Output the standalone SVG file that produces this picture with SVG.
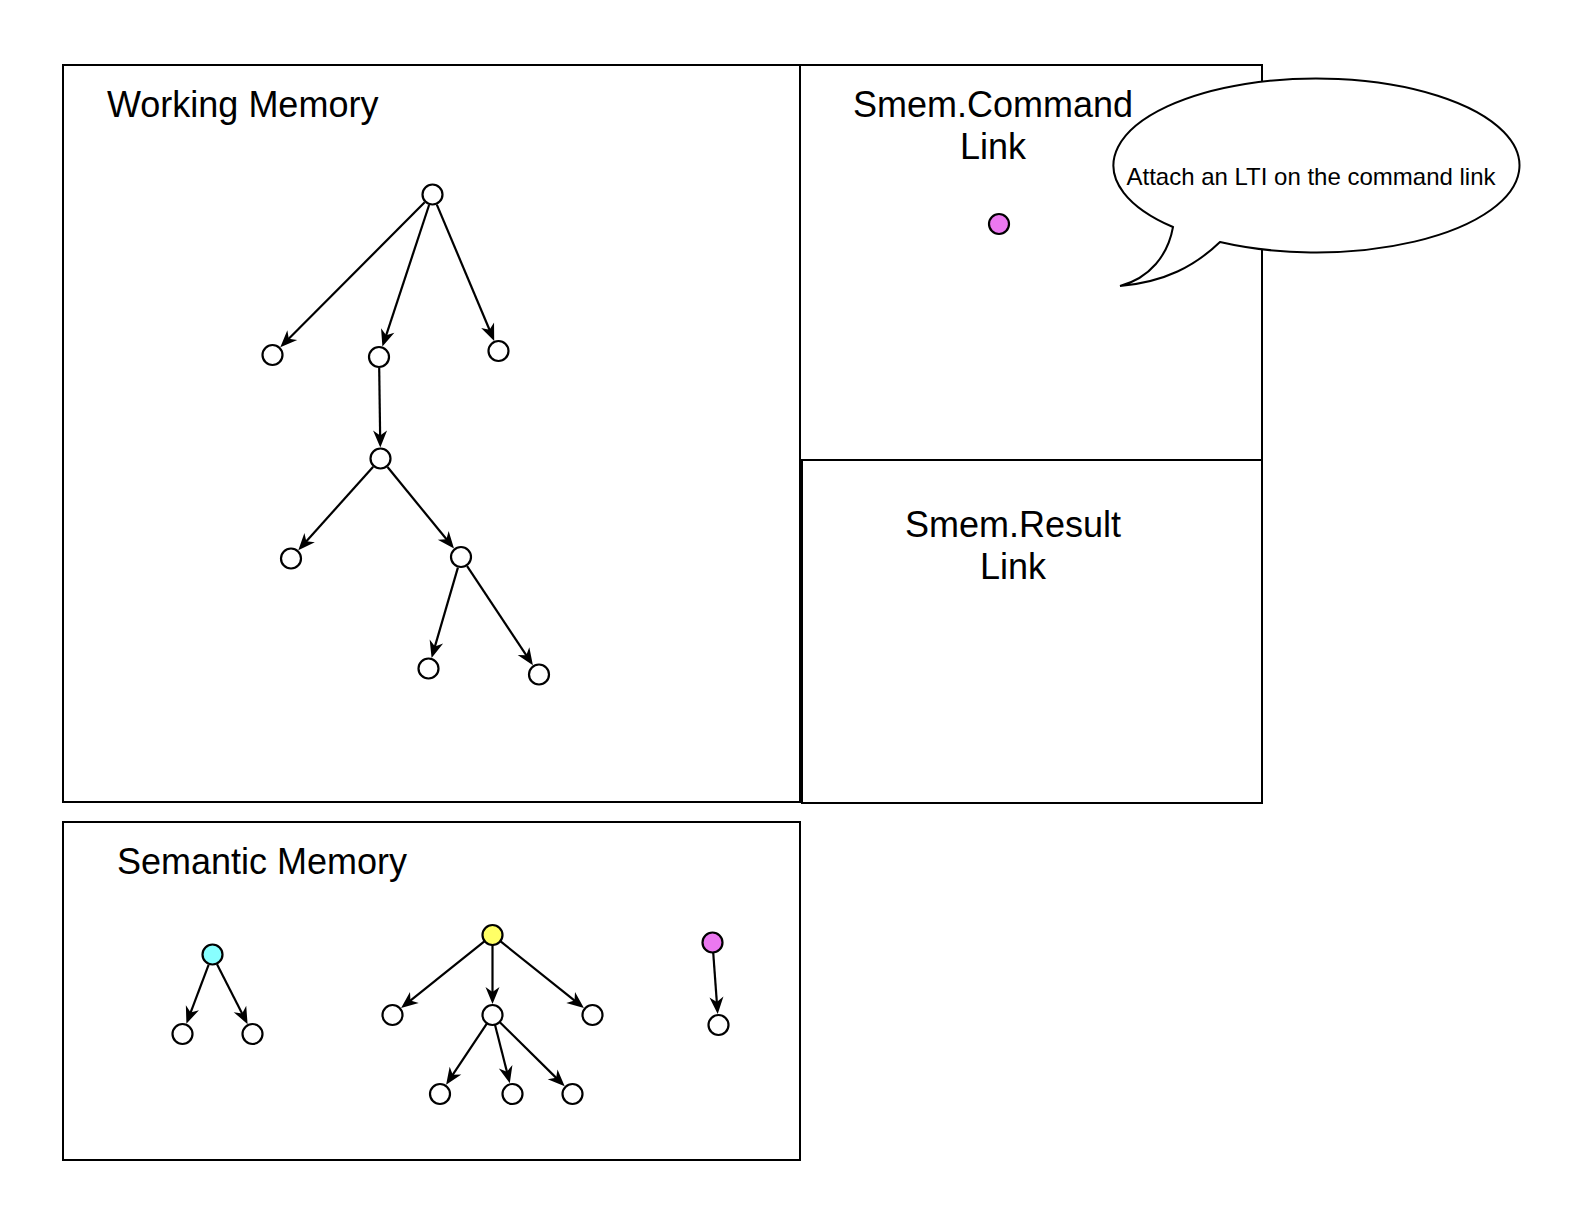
<svg xmlns="http://www.w3.org/2000/svg" width="1574" height="1206" viewBox="0 0 1574 1206">
<style>
.box{fill:none;stroke:#000;stroke-width:2}
.n{fill:#fff;stroke:#000;stroke-width:2.2}
.e{fill:none;stroke:#000;stroke-width:2.2}
.h{font-family:"Liberation Sans",Arial,Helvetica,sans-serif;font-size:36px;fill:#000}
.s{font-family:"Liberation Sans",Arial,Helvetica,sans-serif;font-size:24px;fill:#000}
.ah{fill:#000;stroke:none}
</style>
<rect width="1574" height="1206" fill="#fff"/>

<g id="working-memory">
<rect class="box" x="63" y="65" width="737" height="737"/>
<text class="h" x="107" y="117">Working Memory</text>
</g>
<g id="command-link">
<rect class="box" x="800" y="65" width="462" height="395"/>
<text class="h" x="993" y="117" text-anchor="middle">Smem.Command</text>
<text class="h" x="993" y="159" text-anchor="middle">Link</text>
<circle cx="999" cy="224" r="10" fill="#EB78F0" stroke="#000" stroke-width="2.2"/>
</g>
<g id="result-link">
<rect class="box" x="802" y="460" width="460" height="343" stroke-width="2.5"/>
<text class="h" x="1013" y="537" text-anchor="middle">Smem.Result</text>
<text class="h" x="1013" y="579" text-anchor="middle">Link</text>
</g>
<g id="semantic-memory">
<rect class="box" x="63" y="822" width="737" height="338"/>
<text class="h" x="117" y="874">Semantic Memory</text>
</g>

<g id="connectors">
<line class="e" x1="424.7" y1="202.3" x2="285" y2="342.5"/>
<line class="e" x1="429.1" y1="205" x2="384.5" y2="340.3"/>
<line class="e" x1="436.8" y1="204.6" x2="491.6" y2="334.7"/>
<line class="e" x1="379.2" y1="368" x2="380.2" y2="440.8"/>
<line class="e" x1="373.2" y1="466.7" x2="302.8" y2="545.3"/>
<line class="e" x1="387.5" y1="467" x2="449.8" y2="543.3"/>
<line class="e" x1="457.9" y1="567.6" x2="433.5" y2="651.4"/>
<line class="e" x1="467.1" y1="566.2" x2="529.2" y2="659.7"/>
<line class="e" x1="208.6" y1="964.8" x2="188.8" y2="1017.4"/>
<line class="e" x1="217" y1="964.3" x2="244.5" y2="1018.2"/>
<line class="e" x1="484.7" y1="941.2" x2="406.3" y2="1003.9"/>
<line class="e" x1="492.5" y1="945" x2="492.5" y2="997.3"/>
<line class="e" x1="500.3" y1="941.2" x2="578.7" y2="1003.9"/>
<line class="e" x1="487" y1="1023.3" x2="449.8" y2="1079.2"/>
<line class="e" x1="495" y1="1024.7" x2="508.2" y2="1076.8"/>
<line class="e" x1="499.6" y1="1022" x2="560" y2="1081.6"/>
<line class="e" x1="713.2" y1="952.5" x2="717.2" y2="1007.3"/>
<g class="ah">
<path d="M0,0 L-17,-7 L-12,0 L-17,7 Z" transform="translate(280.3,347.2) rotate(134.9)"/>
<path d="M0,0 L-17,-7 L-12,0 L-17,7 Z" transform="translate(382.4,346.6) rotate(108.2)"/>
<path d="M0,0 L-17,-7 L-12,0 L-17,7 Z" transform="translate(494.2,340.9) rotate(67.1)"/>
<path d="M0,0 L-17,-7 L-12,0 L-17,7 Z" transform="translate(380.3,447.5) rotate(89.2)"/>
<path d="M0,0 L-17,-7 L-12,0 L-17,7 Z" transform="translate(298.3,550.3) rotate(131.8)"/>
<path d="M0,0 L-17,-7 L-12,0 L-17,7 Z" transform="translate(454,548.5) rotate(50.7)"/>
<path d="M0,0 L-17,-7 L-12,0 L-17,7 Z" transform="translate(431.6,657.9) rotate(106.3)"/>
<path d="M0,0 L-17,-7 L-12,0 L-17,7 Z" transform="translate(532.9,665.3) rotate(56.4)"/>
<path d="M0,0 L-17,-7 L-12,0 L-17,7 Z" transform="translate(186.4,1023.7) rotate(110.7)"/>
<path d="M0,0 L-17,-7 L-12,0 L-17,7 Z" transform="translate(247.6,1024.2) rotate(63.3)"/>
<path d="M0,0 L-17,-7 L-12,0 L-17,7 Z" transform="translate(401.1,1008.1) rotate(141.3)"/>
<path d="M0,0 L-17,-7 L-12,0 L-17,7 Z" transform="translate(492.5,1004) rotate(90)"/>
<path d="M0,0 L-17,-7 L-12,0 L-17,7 Z" transform="translate(583.9,1008.1) rotate(38.7)"/>
<path d="M0,0 L-17,-7 L-12,0 L-17,7 Z" transform="translate(446.1,1084.8) rotate(123.6)"/>
<path d="M0,0 L-17,-7 L-12,0 L-17,7 Z" transform="translate(509.8,1083.3) rotate(75.8)"/>
<path d="M0,0 L-17,-7 L-12,0 L-17,7 Z" transform="translate(564.7,1086.3) rotate(44.6)"/>
<path d="M0,0 L-17,-7 L-12,0 L-17,7 Z" transform="translate(717.7,1014) rotate(85.8)"/>
</g>
</g>

<g id="wm-nodes">
<circle class="n" cx="432.5" cy="194.5" r="10"/>
<circle class="n" cx="272.5" cy="355" r="10"/>
<circle class="n" cx="379" cy="357" r="10"/>
<circle class="n" cx="498.5" cy="351" r="10"/>
<circle class="n" cx="380.5" cy="458.5" r="10"/>
<circle class="n" cx="291" cy="558.5" r="10"/>
<circle class="n" cx="461" cy="557" r="10"/>
<circle class="n" cx="428.5" cy="668.5" r="10"/>
<circle class="n" cx="539" cy="674.5" r="10"/>
</g>

<g id="sm-nodes">
<circle cx="212.5" cy="954.5" r="10" fill="#88FFFF" stroke="#000" stroke-width="2.2"/>
<circle class="n" cx="182.5" cy="1034" r="10"/>
<circle class="n" cx="252.5" cy="1034" r="10"/>
<circle cx="492.5" cy="935" r="10" fill="#FFFF66" stroke="#000" stroke-width="2.2"/>
<circle class="n" cx="392.5" cy="1015" r="10"/>
<circle class="n" cx="492.5" cy="1015" r="10"/>
<circle class="n" cx="592.5" cy="1015" r="10"/>
<circle class="n" cx="440" cy="1094" r="10"/>
<circle class="n" cx="512.5" cy="1094" r="10"/>
<circle class="n" cx="572.5" cy="1094" r="10"/>
<circle cx="712.5" cy="942.5" r="10" fill="#EB78F0" stroke="#000" stroke-width="2.2"/>
<circle class="n" cx="718.5" cy="1025" r="10"/>
</g>

<g id="callout">
<path d="M1220,242 A203,87 0 1 0 1173,227 C1168,255 1150,278 1120,286 C1165,282 1195,266 1220,242 Z" fill="#fff" stroke="#000" stroke-width="2"/>
<text class="s" x="1311" y="185" text-anchor="middle">Attach an LTI on the command link</text>
</g>
</svg>
